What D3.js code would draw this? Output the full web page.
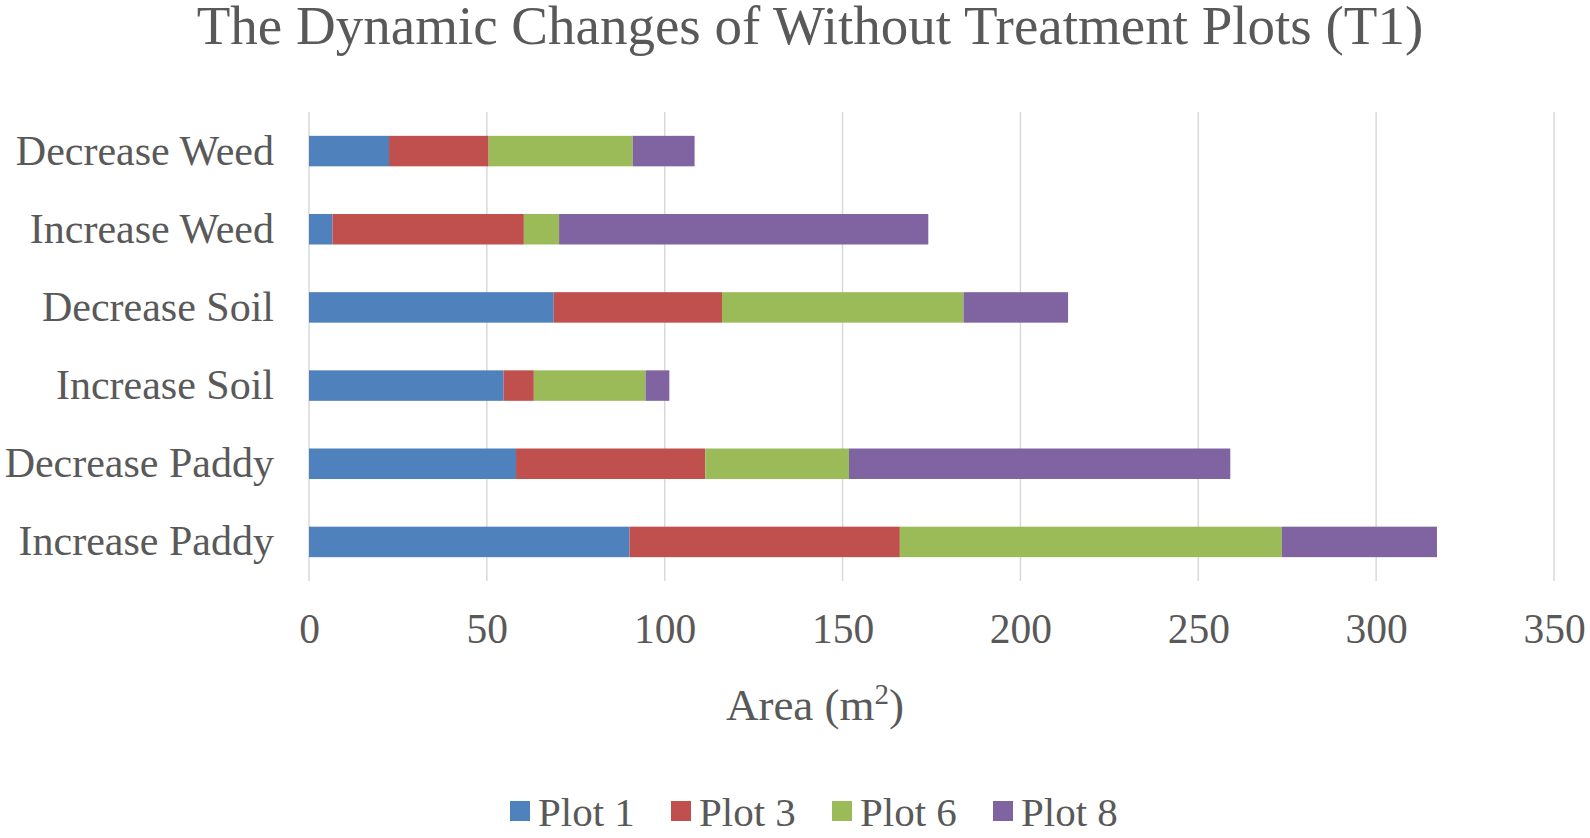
<!DOCTYPE html>
<html>
<head>
<meta charset="utf-8">
<script src="https://cdn.jsdelivr.net/npm/d3@7"></script>
<style>
  body { margin: 0; background: #fff; }
  text { font-family: "Liberation Serif", "Times New Roman", serif; fill: #595959; }
</style>
</head>
<body>
<div id="chart"></div>
<script>
// categories top to bottom
var categories = ["Decrease Weed", "Increase Weed", "Decrease Soil", "Increase Soil", "Decrease Paddy", "Increase Paddy"];
var seriesNames = ["Plot 1", "Plot 3", "Plot 6", "Plot 8"];
var plot1 = [22.5, 6.6, 68.8, 54.7, 58.2, 90.1];
var plot3 = [28.0, 53.8, 47.3, 8.5, 53.2, 76.0];
var plot6 = [40.5, 9.9, 67.9, 31.4, 40.4, 107.4];
var plot8 = [17.4, 103.8, 29.4, 6.7, 107.2, 43.6];
var xTicks = [0, 50, 100, 150, 200, 250, 300, 350];
var colors = ["#4F81BD", "#C0504D", "#9BBB59", "#8064A2"];

var width = 1590, height = 838;
var margin = {top: 112, right: 36, bottom: 257, left: 309};

var data = categories.map((c, i) => ({
    cat: c, "Plot 1": plot1[i], "Plot 3": plot3[i], "Plot 6": plot6[i], "Plot 8": plot8[i]
}));

var stacked = d3.stack().keys(seriesNames)(data);

var svg = d3.select("#chart")
    .append("svg")
    .attr("width", width)
    .attr("height", height);

var x = d3.scaleLinear()
    .domain([0, 350])
    .range([margin.left, width - margin.right]);
var y = d3.scaleBand()
    .domain(categories)
    .range([margin.top, height - margin.bottom])
    .paddingInner(0.61)
    .paddingOuter(0.305);

var color = d3.scaleOrdinal().domain(seriesNames).range(colors);

// gridlines
svg.append("g")
    .selectAll("line")
    .data(xTicks)
    .enter()
    .append("line")
    .attr("x1", d => x(d)).attr("x2", d => x(d))
    .attr("y1", margin.top).attr("y2", height - margin.bottom)
    .attr("stroke", "#D9D9D9")
    .attr("stroke-width", 1.5);

// bars
svg.append("g")
    .selectAll("g")
    .data(stacked)
    .enter()
    .append("g")
    .attr("fill", d => color(d.key))
    .selectAll("rect")
    .data(d => d)
    .enter()
    .append("rect")
    .attr("x", d => x(d[0]))
    .attr("width", d => x(d[1]) - x(d[0]))
    .attr("y", d => y(d.data.cat))
    .attr("height", y.bandwidth());

// x axis tick labels
var xAxis = svg.append("g")
    .attr("transform", "translate(0," + (height - margin.bottom) + ")")
    .call(d3.axisBottom(x).tickValues(xTicks).tickSize(0).tickPadding(0));
xAxis.select(".domain").remove();
xAxis.selectAll("text")
    .attr("dy", null)
    .attr("y", 62)
    .style("font-size", "41.5px")
    .style("font-family", "Liberation Serif, Times New Roman, serif")
    .attr("fill", "#595959");

// y axis category labels
var yAxis = svg.append("g")
    .attr("transform", "translate(" + margin.left + ",0)")
    .call(d3.axisLeft(y).tickSize(0).tickPadding(35));
yAxis.select(".domain").remove();
yAxis.selectAll("text")
    .style("font-size", "42px")
    .style("font-family", "Liberation Serif, Times New Roman, serif")
    .attr("fill", "#595959");

// title
svg.append("text")
    .attr("x", 810)
    .attr("y", 44)
    .attr("text-anchor", "middle")
    .style("font-size", "55px")
    .text("The Dynamic Changes of Without Treatment Plots (T1)");

// axis title
var at = svg.append("text")
    .attr("x", 815)
    .attr("y", 720)
    .attr("text-anchor", "middle")
    .style("font-size", "45px");
at.append("tspan").text("Area (m");
at.append("tspan").attr("baseline-shift", "super").style("font-size", "29px").text("2");
at.append("tspan").text(")");

// legend
var legend = svg.append("g")
    .selectAll("g")
    .data(seriesNames)
    .enter()
    .append("g")
    .attr("transform", (d, i) => "translate(" + (510 + i * 161) + ",811)");
legend.append("rect")
    .attr("x", 0).attr("y", -10)
    .attr("width", 20).attr("height", 20)
    .attr("fill", d => color(d));
legend.append("text")
    .attr("x", 28)
    .attr("y", 15)
    .style("font-size", "41px")
    .text(d => d);
</script>
</body>
</html>
